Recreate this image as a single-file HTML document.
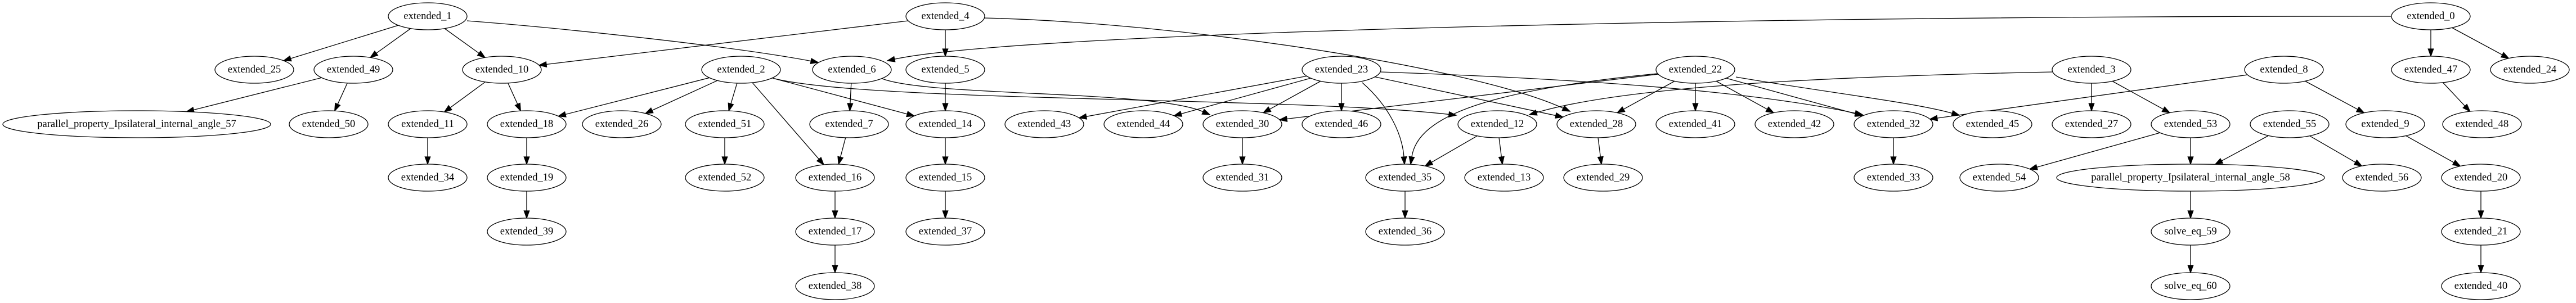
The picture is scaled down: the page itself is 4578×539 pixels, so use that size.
<!DOCTYPE html>
<html><head><meta charset="utf-8"><style>
html,body{margin:0;padding:0;background:#fff;width:4578px;height:539px;overflow:hidden}
svg text{font-family:"Liberation Serif",serif;font-size:18.5px;text-anchor:middle;dominant-baseline:central}
</style></head><body>
<svg id="g" width="4578" height="539" viewBox="0 0 4578 539" xmlns="http://www.w3.org/2000/svg">
<g id="edges" stroke="#000" stroke-width="1.3" fill="none"></g>
<g id="nodes" stroke="#000" stroke-width="1.3" fill="#fff">
<ellipse cx="760" cy="29" rx="70" ry="24"/><text x="760" y="29" stroke="none" fill="#000">extended_1</text>
<ellipse cx="452" cy="124" rx="70" ry="24"/><text x="452" y="124" stroke="none" fill="#000">extended_25</text>
<ellipse cx="628" cy="124" rx="70" ry="24"/><text x="628" y="124" stroke="none" fill="#000">extended_49</text>
<ellipse cx="892" cy="124" rx="70" ry="24"/><text x="892" y="124" stroke="none" fill="#000">extended_10</text>
<ellipse cx="243" cy="221" rx="238" ry="24"/><text x="243" y="221" stroke="none" fill="#000">parallel_property_Ipsilateral_internal_angle_57</text>
<ellipse cx="584" cy="221" rx="70" ry="24"/><text x="584" y="221" stroke="none" fill="#000">extended_50</text>
<ellipse cx="760" cy="221" rx="70" ry="24"/><text x="760" y="221" stroke="none" fill="#000">extended_11</text>
<ellipse cx="936" cy="221" rx="70" ry="24"/><text x="936" y="221" stroke="none" fill="#000">extended_18</text>
<ellipse cx="1105" cy="221" rx="70" ry="24"/><text x="1105" y="221" stroke="none" fill="#000">extended_26</text>
<ellipse cx="760" cy="316" rx="70" ry="24"/><text x="760" y="316" stroke="none" fill="#000">extended_34</text>
<ellipse cx="936" cy="316" rx="70" ry="24"/><text x="936" y="316" stroke="none" fill="#000">extended_19</text>
<ellipse cx="936" cy="412" rx="70" ry="24"/><text x="936" y="412" stroke="none" fill="#000">extended_39</text>
<ellipse cx="1680" cy="29" rx="70" ry="24"/><text x="1680" y="29" stroke="none" fill="#000">extended_4</text>
<ellipse cx="1317" cy="124" rx="70" ry="24"/><text x="1317" y="124" stroke="none" fill="#000">extended_2</text>
<ellipse cx="1514" cy="124" rx="70" ry="24"/><text x="1514" y="124" stroke="none" fill="#000">extended_6</text>
<ellipse cx="1680" cy="124" rx="70" ry="24"/><text x="1680" y="124" stroke="none" fill="#000">extended_5</text>
<ellipse cx="1288" cy="221" rx="70" ry="24"/><text x="1288" y="221" stroke="none" fill="#000">extended_51</text>
<ellipse cx="1509" cy="221" rx="70" ry="24"/><text x="1509" y="221" stroke="none" fill="#000">extended_7</text>
<ellipse cx="1680" cy="221" rx="70" ry="24"/><text x="1680" y="221" stroke="none" fill="#000">extended_14</text>
<ellipse cx="1856" cy="221" rx="70" ry="24"/><text x="1856" y="221" stroke="none" fill="#000">extended_43</text>
<ellipse cx="2032" cy="221" rx="70" ry="24"/><text x="2032" y="221" stroke="none" fill="#000">extended_44</text>
<ellipse cx="2208" cy="221" rx="70" ry="24"/><text x="2208" y="221" stroke="none" fill="#000">extended_30</text>
<ellipse cx="1288" cy="316" rx="70" ry="24"/><text x="1288" y="316" stroke="none" fill="#000">extended_52</text>
<ellipse cx="1484" cy="316" rx="70" ry="24"/><text x="1484" y="316" stroke="none" fill="#000">extended_16</text>
<ellipse cx="1680" cy="316" rx="70" ry="24"/><text x="1680" y="316" stroke="none" fill="#000">extended_15</text>
<ellipse cx="2208" cy="316" rx="70" ry="24"/><text x="2208" y="316" stroke="none" fill="#000">extended_31</text>
<ellipse cx="1484" cy="412" rx="70" ry="24"/><text x="1484" y="412" stroke="none" fill="#000">extended_17</text>
<ellipse cx="1680" cy="412" rx="70" ry="24"/><text x="1680" y="412" stroke="none" fill="#000">extended_37</text>
<ellipse cx="1484" cy="509" rx="70" ry="24"/><text x="1484" y="509" stroke="none" fill="#000">extended_38</text>
<ellipse cx="2384" cy="124" rx="70" ry="24"/><text x="2384" y="124" stroke="none" fill="#000">extended_23</text>
<ellipse cx="3013" cy="124" rx="70" ry="24"/><text x="3013" y="124" stroke="none" fill="#000">extended_22</text>
<ellipse cx="2384" cy="221" rx="70" ry="24"/><text x="2384" y="221" stroke="none" fill="#000">extended_46</text>
<ellipse cx="2661" cy="221" rx="70" ry="24"/><text x="2661" y="221" stroke="none" fill="#000">extended_12</text>
<ellipse cx="2837" cy="221" rx="70" ry="24"/><text x="2837" y="221" stroke="none" fill="#000">extended_28</text>
<ellipse cx="3013" cy="221" rx="70" ry="24"/><text x="3013" y="221" stroke="none" fill="#000">extended_41</text>
<ellipse cx="3189" cy="221" rx="70" ry="24"/><text x="3189" y="221" stroke="none" fill="#000">extended_42</text>
<ellipse cx="3365" cy="221" rx="70" ry="24"/><text x="3365" y="221" stroke="none" fill="#000">extended_32</text>
<ellipse cx="2497" cy="316" rx="70" ry="24"/><text x="2497" y="316" stroke="none" fill="#000">extended_35</text>
<ellipse cx="2673" cy="316" rx="70" ry="24"/><text x="2673" y="316" stroke="none" fill="#000">extended_13</text>
<ellipse cx="2849" cy="316" rx="70" ry="24"/><text x="2849" y="316" stroke="none" fill="#000">extended_29</text>
<ellipse cx="3365" cy="316" rx="70" ry="24"/><text x="3365" y="316" stroke="none" fill="#000">extended_33</text>
<ellipse cx="2497" cy="412" rx="70" ry="24"/><text x="2497" y="412" stroke="none" fill="#000">extended_36</text>
<ellipse cx="4320" cy="29" rx="70" ry="24"/><text x="4320" y="29" stroke="none" fill="#000">extended_0</text>
<ellipse cx="3717" cy="124" rx="70" ry="24"/><text x="3717" y="124" stroke="none" fill="#000">extended_3</text>
<ellipse cx="4059" cy="124" rx="70" ry="24"/><text x="4059" y="124" stroke="none" fill="#000">extended_8</text>
<ellipse cx="4320" cy="124" rx="70" ry="24"/><text x="4320" y="124" stroke="none" fill="#000">extended_47</text>
<ellipse cx="4496" cy="124" rx="70" ry="24"/><text x="4496" y="124" stroke="none" fill="#000">extended_24</text>
<ellipse cx="3541" cy="221" rx="70" ry="24"/><text x="3541" y="221" stroke="none" fill="#000">extended_45</text>
<ellipse cx="3717" cy="221" rx="70" ry="24"/><text x="3717" y="221" stroke="none" fill="#000">extended_27</text>
<ellipse cx="3893" cy="221" rx="70" ry="24"/><text x="3893" y="221" stroke="none" fill="#000">extended_53</text>
<ellipse cx="4069" cy="221" rx="70" ry="24"/><text x="4069" y="221" stroke="none" fill="#000">extended_55</text>
<ellipse cx="4239" cy="221" rx="70" ry="24"/><text x="4239" y="221" stroke="none" fill="#000">extended_9</text>
<ellipse cx="4411" cy="221" rx="70" ry="24"/><text x="4411" y="221" stroke="none" fill="#000">extended_48</text>
<ellipse cx="3553" cy="316" rx="70" ry="24"/><text x="3553" y="316" stroke="none" fill="#000">extended_54</text>
<ellipse cx="3893" cy="316" rx="238" ry="24"/><text x="3893" y="316" stroke="none" fill="#000">parallel_property_Ipsilateral_internal_angle_58</text>
<ellipse cx="4233" cy="316" rx="70" ry="24"/><text x="4233" y="316" stroke="none" fill="#000">extended_56</text>
<ellipse cx="4409" cy="316" rx="70" ry="24"/><text x="4409" y="316" stroke="none" fill="#000">extended_20</text>
<ellipse cx="3893" cy="412" rx="70" ry="24"/><text x="3893" y="412" stroke="none" fill="#000">solve_eq_59</text>
<ellipse cx="4409" cy="412" rx="70" ry="24"/><text x="4409" y="412" stroke="none" fill="#000">extended_21</text>
<ellipse cx="3893" cy="509" rx="70" ry="24"/><text x="3893" y="509" stroke="none" fill="#000">solve_eq_60</text>
<ellipse cx="4409" cy="509" rx="70" ry="24"/><text x="4409" y="509" stroke="none" fill="#000">extended_40</text>
</g>
</svg>
<script>
(function(){
var N={};
document.querySelectorAll('#nodes ellipse').forEach(function(e){
  var t=e.nextElementSibling.textContent;
  N[t]={x:+e.getAttribute('cx'),y:+e.getAttribute('cy'),rx:+e.getAttribute('rx'),ry:+e.getAttribute('ry')};
});
function nm(k){return isNaN(k)?k:'extended_'+k;}
function bnd(n,dx,dy){var L=Math.sqrt(dx*dx+dy*dy);dx/=L;dy/=L;var t=1/Math.sqrt(dx*dx/(n.rx*n.rx)+dy*dy/(n.ry*n.ry));return [n.x+dx*t,n.y+dy*t];}
var G=document.getElementById('edges'),ns='http://www.w3.org/2000/svg';
function arrow(tip,from){
  var dx=tip[0]-from[0],dy=tip[1]-from[1],L=Math.sqrt(dx*dx+dy*dy);dx/=L;dy/=L;
  var b=[tip[0]-dx*13,tip[1]-dy*13];
  var p=document.createElementNS(ns,'polygon');
  p.setAttribute('points',tip[0]+','+tip[1]+' '+(b[0]-dy*4.7)+','+(b[1]+dx*4.7)+' '+(b[0]+dy*4.7)+','+(b[1]-dx*4.7));
  p.setAttribute('fill','#000');G.appendChild(p);return b;
}
function path(d){var p=document.createElementNS(ns,'path');p.setAttribute('d',d);G.appendChild(p);}
function E(a,b){
  var A=N[nm(a)],B=N[nm(b)];
  var s=bnd(A,B.x-A.x,B.y-A.y),e=bnd(B,A.x-B.x,A.y-B.y);
  var bs=arrow(e,s);path('M'+s[0]+','+s[1]+'L'+bs[0]+','+bs[1]);
}
function C(p){
  var bs=arrow([p[6],p[7]],[p[4],p[5]]);
  path('M'+p[0]+','+p[1]+'C'+p[2]+','+p[3]+' '+p[4]+','+p[5]+' '+bs[0]+','+bs[1]);
}
var st=[[1,25],[1,49],[1,10],[49,'parallel_property_Ipsilateral_internal_angle_57'],[49,50],[10,11],[10,18],[11,34],[18,19],[19,39],
[4,10],[4,5],[0,47],[0,24],[2,26],[2,18],[2,51],[2,16],[2,14],[6,7],[5,14],[7,16],[14,15],[15,37],[16,17],[17,38],[51,52],[30,31],
[23,43],[23,44],[23,30],[23,46],[23,28],[22,30],[22,28],[22,41],[22,42],[22,32],[3,27],[3,53],[8,9],[12,35],[12,13],[28,29],[32,33],[35,36],
[53,54],[53,'parallel_property_Ipsilateral_internal_angle_58'],[55,'parallel_property_Ipsilateral_internal_angle_58'],[55,56],[9,20],[20,21],[21,40],
['parallel_property_Ipsilateral_internal_angle_58','solve_eq_59'],['solve_eq_59','solve_eq_60'],[47,48],[8,32]];
st.forEach(function(e){E(e[0],e[1]);});
C([830,37,1000,50,1300,82,1454,111]);
C([1749,32,2100,40,2620,120,2790,198]);
C([1568,140,1650,172,2050,160,2150,204]);
C([1377,140,1550,182,2300,172,2588,205]);
C([2945,131,2650,160,2520,205,2507,292]);
C([2421,147,2470,190,2492,240,2496,292]);
C([2453,128,2800,140,3100,160,3310,204]);
C([3085,137,3250,165,3400,182,3482,205]);
C([3648,128,3300,135,2900,150,2718,204]);
C([4249,29,3000,28,1800,60,1577,108]);
})();
</script>
</body></html>
